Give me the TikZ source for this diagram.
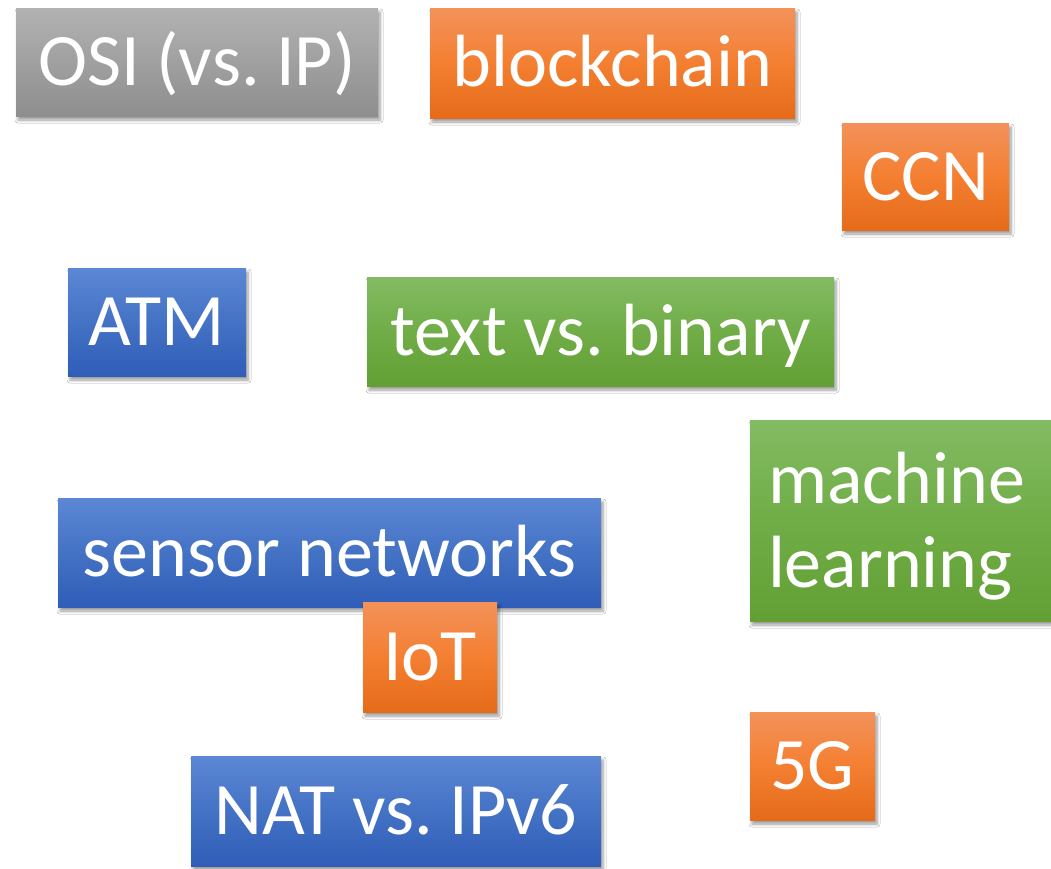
\documentclass[tikz,border=0pt]{standalone}
\usepackage{fontspec}
\setmainfont{Carlito}
\usepackage{tikz}
\usetikzlibrary{shadows.blur}
\definecolor{grayTop}{HTML}{B2B2B2}
\definecolor{grayBot}{HTML}{8E8E8E}
\definecolor{orangeTop}{HTML}{F3925B}
\definecolor{orangeMid}{HTML}{F47F31}
\definecolor{orangeBot}{HTML}{E56B1A}
\definecolor{greenTop}{HTML}{83BB63}
\definecolor{greenMid}{HTML}{70AD47}
\definecolor{greenBot}{HTML}{62A034}
\definecolor{blueTop}{HTML}{5C87D5}
\definecolor{blueMid}{HTML}{4472C4}
\definecolor{blueBot}{HTML}{2F5DB8}
\tikzset{
  topic/.style={rectangle, inner sep=0pt, text=white, text height=47pt, text depth=0pt,
    font=\fontsize{74}{84}\selectfont,
    blur shadow={shadow xshift=2pt, shadow yshift=-4pt, shadow blur radius=3pt, shadow blur steps=6, shadow opacity=40}},
  grayfill/.style={top color=grayTop, bottom color=grayBot, middle color=grayTop!50!grayBot},
  orangefill/.style={top color=orangeTop, bottom color=orangeBot, middle color=orangeMid},
  greenfill/.style={top color=greenTop, bottom color=greenBot, middle color=greenMid},
  bluefill/.style={top color=blueTop, bottom color=blueBot, middle color=blueMid}
}
\begin{document}
\begin{tikzpicture}[x=1pt,y=-1pt]
  \useasboundingbox[fill=white] (0,0) rectangle (1051,868);
  % top row
  \node[topic, grayfill, minimum width=362, minimum height=108] (osi) at (197,62) {OSI (vs.\ IP)};
  \node[topic, orangefill, minimum width=365, minimum height=110] (blockchain) at (612.5,63) {blockchain};
  \node[topic, orangefill, minimum width=167, minimum height=107] (ccn) at (925.5,176.5) {CCN};
  % middle
  \node[topic, bluefill, minimum width=178, minimum height=108] (atm) at (157,322) {ATM};
  \node[topic, greenfill, minimum width=310, minimum height=201, text width=274, inner xsep=18pt,
    align=left, text depth=82pt] (ml) at (905,520.5) {machine\\learning};
  \node[topic, greenfill, minimum width=467, minimum height=109] (textbin) at (600.5,331.5) {text vs.\ binary};
  % bottom
  \node[topic, bluefill, minimum width=543, minimum height=109] (sensor) at (329.5,552.5) {sensor networks};
  \node[topic, orangefill, minimum width=134, minimum height=110] (iot) at (430,657) {IoT};
  \node[topic, orangefill, minimum width=125, minimum height=108] (fiveg) at (812.5,766) {5G};
  \node[topic, bluefill, minimum width=410, minimum height=110] (nat) at (396,811) {NAT vs.\ IPv6};
\end{tikzpicture}
\end{document}
